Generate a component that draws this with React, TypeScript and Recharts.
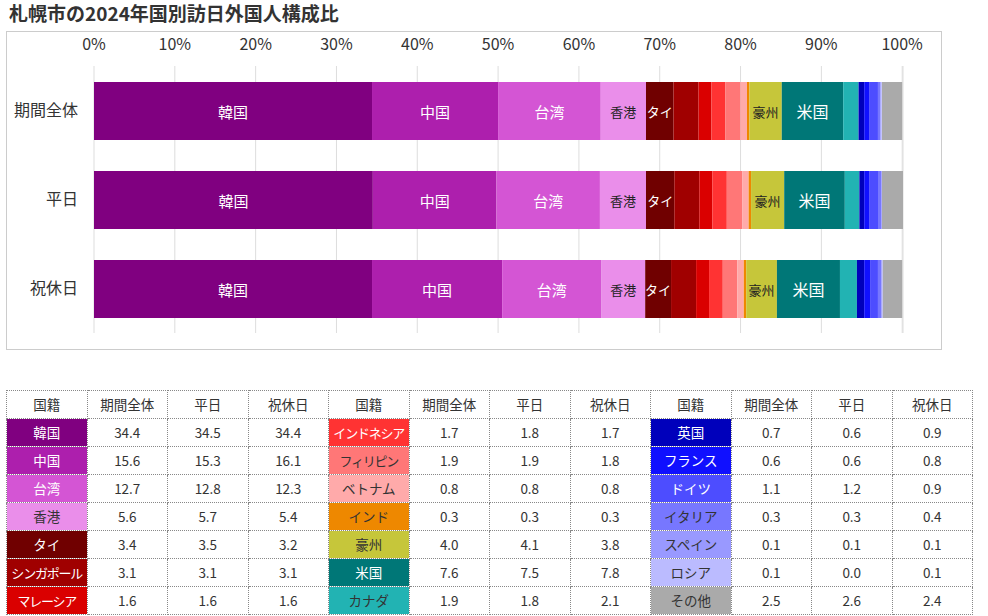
import React from 'react';
import { BarChart, Bar, XAxis, YAxis, CartesianGrid, LabelList } from 'recharts';

const FONT = '"Noto Sans CJK JP", "Noto Sans", sans-serif';

// 国籍（積み上げ順）
const countries = [
  '韓国', '中国', '台湾', '香港', 'タイ', 'シンガポール', 'マレーシア',
  'インドネシア', 'フィリピン', 'ベトナム', 'インド', '豪州', '米国', 'カナダ',
  '英国', 'フランス', 'ドイツ', 'イタリア', 'スペイン', 'ロシア', 'その他',
];

const colors = [
  '#800080', '#AD1FAD', '#D455D4', '#EA8EEA', '#700000', '#A00000', '#DA0000',
  '#FF3333', '#FF7777', '#FFAAAA', '#EE8800', '#C6C63A', '#007777', '#22B3B3',
  '#0000BB', '#1010FF', '#4D4DFF', '#7777FF', '#9999FF', '#BBBBFF', '#AAAAAA',
];

const darkText = ['香港', 'フィリピン', 'ベトナム', 'インド', '豪州', 'カナダ', 'イタリア', 'スペイン', 'ロシア', 'その他'];

const periods = ['期間全体', '平日', '祝休日'];

const overall = [34.4, 15.6, 12.7, 5.6, 3.4, 3.1, 1.6, 1.7, 1.9, 0.8, 0.3, 4.0, 7.6, 1.9, 0.7, 0.6, 1.1, 0.3, 0.1, 0.1, 2.5];
const weekday = [34.5, 15.3, 12.8, 5.7, 3.5, 3.1, 1.6, 1.8, 1.9, 0.8, 0.3, 4.1, 7.5, 1.8, 0.6, 0.6, 1.2, 0.3, 0.1, 0.0, 2.6];
const holiday = [34.4, 16.1, 12.3, 5.4, 3.2, 3.1, 1.6, 1.7, 1.8, 0.8, 0.3, 3.8, 7.8, 2.1, 0.9, 0.8, 0.9, 0.4, 0.1, 0.1, 2.4];

const xTicks = [0, 10, 20, 30, 40, 50, 60, 70, 80, 90, 100];

// バー内ラベルを出す国
const barLabels: Record<string, { size: number; color: string }> = {
  '韓国': { size: 15, color: '#fff' },
  '中国': { size: 15, color: '#fff' },
  '台湾': { size: 15, color: '#fff' },
  '香港': { size: 13, color: '#222' },
  'タイ': { size: 13, color: '#fff' },
  '豪州': { size: 13, color: '#222' },
  '米国': { size: 16, color: '#fff' },
};

const series = [overall, weekday, holiday];
const data = periods.map((p, i) => {
  const row: Record<string, any> = { name: p };
  countries.forEach((c, j) => { row[c] = series[i][j]; });
  return row;
});

const makeLabel = (country: string) => (props: any) => {
  const cfg = barLabels[country];
  if (!cfg) return null;
  const { x, y, width, height } = props;
  return (
    <text
      x={Number(x) + Number(width) / 2}
      y={Number(y) + Number(height) / 2}
      fill={cfg.color}
      fontSize={cfg.size}
      fontFamily={FONT}
      textAnchor="middle"
      dominantBaseline="central"
    >
      {country}
    </text>
  );
};

const fmt = (v: number) => v.toFixed(1);

const cellBase: React.CSSProperties = {
  border: '1px dotted #888',
  padding: 0,
  whiteSpace: 'nowrap',
  overflow: 'hidden',
  height: 27,
};

const TableBlock = () => {
  const groups = [0, 7, 14];
  return (
    <table
      style={{
        position: 'absolute', left: 6, top: 390, width: 967,
        borderCollapse: 'collapse', tableLayout: 'fixed', fontSize: 13.5,
        fontFamily: FONT, color: '#333', textAlign: 'center', lineHeight: '27px',
      }}
    >
      <tbody>
        <tr>
          {groups.map((g) => (
            <React.Fragment key={g}>
              <td style={cellBase}>国籍</td>
              <td style={cellBase}>期間全体</td>
              <td style={cellBase}>平日</td>
              <td style={cellBase}>祝休日</td>
            </React.Fragment>
          ))}
        </tr>
        {[0, 1, 2, 3, 4, 5, 6].map((r) => (
          <tr key={r}>
            {groups.map((g) => {
              const k = g + r;
              const c = countries[k];
              const long = c.length >= 5;
              return (
                <React.Fragment key={g}>
                  <td
                    style={{
                      ...cellBase,
                      background: colors[k],
                      color: darkText.includes(c) ? '#333' : '#fff',
                      fontSize: long ? 13 : 13.5,
                      letterSpacing: long ? -1.2 : 0,
                    }}
                  >
                    {c}
                  </td>
                  <td style={cellBase}>{fmt(overall[k])}</td>
                  <td style={cellBase}>{fmt(weekday[k])}</td>
                  <td style={cellBase}>{fmt(holiday[k])}</td>
                </React.Fragment>
              );
            })}
          </tr>
        ))}
      </tbody>
    </table>
  );
};

export default function App() {
  return (
    <div style={{ position: 'absolute', left: 0, top: 0, width: 988, height: 616, background: '#fff', fontFamily: FONT }}>
      <div style={{ position: 'absolute', left: 9, top: 0, fontSize: 19, fontWeight: 'bold', color: '#333', lineHeight: '26px' }}>
        札幌市の2024年国別訪日外国人構成比
      </div>
      <div style={{ position: 'absolute', left: 6, top: 31, width: 934, height: 317, border: '1px solid #ccc' }}>
        <BarChart
          width={934}
          height={317}
          data={data}
          layout="vertical"
          margin={{ top: 4, right: 38, bottom: 16, left: 0 }}
          barSize={58}
        >
          <CartesianGrid horizontal={false} stroke="#ddd" />
          <XAxis
            type="number"
            orientation="top"
            domain={[0, 100]}
            ticks={xTicks}
            tickFormatter={(v) => `${v}%`}
            axisLine={false}
            tickLine={false}
            tickSize={6}
            tickMargin={10}
            height={30}
            interval={0}
            tick={{ fill: '#333', fontSize: 16, fontFamily: FONT }}
          />
          <YAxis
            type="category"
            dataKey="name"
            width={87}
            axisLine={false}
            tickLine={false}
            tickSize={6}
            tickMargin={10}
            tick={{ fill: '#333', fontSize: 16, fontFamily: FONT }}
          />
          {countries.map((c, i) => (
            <Bar key={c} dataKey={c} stackId="a" fill={colors[i]} isAnimationActive={false}>
              {barLabels[c] ? <LabelList dataKey={c} content={makeLabel(c)} /> : null}
            </Bar>
          ))}
        </BarChart>
      </div>
      <TableBlock />
    </div>
  );
}
